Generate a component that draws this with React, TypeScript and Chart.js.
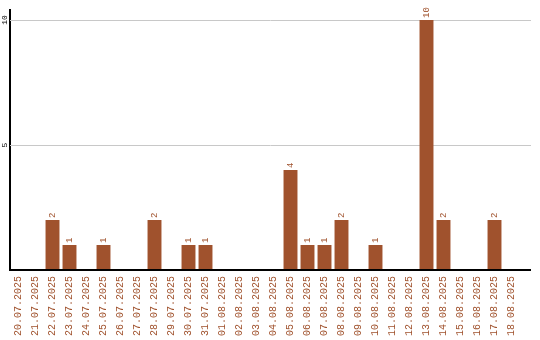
import React, { useEffect, useRef } from "react";
import { Chart, registerables } from "chart.js";

Chart.register(...registerables);

const categories = [
  "20.07.2025", "21.07.2025", "22.07.2025", "23.07.2025", "24.07.2025",
  "25.07.2025", "26.07.2025", "27.07.2025", "28.07.2025", "29.07.2025",
  "30.07.2025", "31.07.2025", "01.08.2025", "02.08.2025", "03.08.2025",
  "04.08.2025", "05.08.2025", "06.08.2025", "07.08.2025", "08.08.2025",
  "09.08.2025", "10.08.2025", "11.08.2025", "12.08.2025", "13.08.2025",
  "14.08.2025", "15.08.2025", "16.08.2025", "17.08.2025", "18.08.2025",
];
const counts = [0, 0, 2, 1, 0, 1, 0, 0, 2, 0, 1, 1, 0, 0, 0, 0, 4, 1, 1, 2, 0, 1, 0, 0, 10, 2, 0, 0, 2, 0];
const yTicks = [5, 10];

const BAR = "#A0522D";
const FONT = "'Liberation Mono', 'DejaVu Sans Mono', monospace";
const EXTRA = 11;

const decorPlugin = {
  id: "decor",
  beforeDatasetsDraw(chart: any) {
    const { ctx, chartArea } = chart;
    const y = chart.scales.y;
    ctx.save();
    ctx.strokeStyle = "#c8c8c8";
    ctx.lineWidth = 1;
    for (const v of yTicks) {
      const py = Math.round(y.getPixelForValue(v)) + 0.5;
      ctx.beginPath();
      ctx.moveTo(chartArea.left, py);
      ctx.lineTo(chartArea.right + EXTRA, py);
      ctx.stroke();
    }
    ctx.restore();
  },
  afterDatasetsDraw(chart: any) {
    const { ctx, chartArea } = chart;
    const y = chart.scales.y;
    ctx.save();
    ctx.strokeStyle = "#000";
    ctx.lineWidth = 2;
    ctx.beginPath();
    ctx.moveTo(chartArea.left - 1, chartArea.bottom);
    ctx.lineTo(chartArea.right + EXTRA, chartArea.bottom);
    ctx.stroke();
    ctx.fillStyle = "#000";
    ctx.font = `8px ${FONT}`;
    ctx.textAlign = "center";
    ctx.textBaseline = "middle";
    for (const v of yTicks) {
      const py = y.getPixelForValue(v);
      ctx.save();
      ctx.translate(5, py);
      ctx.rotate(-Math.PI / 2);
      ctx.fillText(String(v), 0, 0);
      ctx.restore();
    }
    const meta = chart.getDatasetMeta(0);
    ctx.fillStyle = BAR;
    ctx.font = `9px ${FONT}`;
    ctx.textAlign = "left";
    ctx.textBaseline = "middle";
    meta.data.forEach((el: any, i: number) => {
      const v = counts[i];
      if (!v) return;
      ctx.save();
      ctx.translate(el.x, el.y - 2);
      ctx.rotate(-Math.PI / 2);
      ctx.fillText(String(v), 0, 0);
      ctx.restore();
    });
    ctx.restore();
  },
};

export default function App() {
  const ref = useRef<HTMLCanvasElement>(null);
  useEffect(() => {
    const chart = new Chart(ref.current!, {
      type: "bar",
      data: {
        labels: categories,
        datasets: [
          {
            data: counts,
            backgroundColor: BAR,
            barPercentage: 0.82,
            categoryPercentage: 1,
          },
        ],
      },
      options: {
        animation: false,
        responsive: true,
        maintainAspectRatio: false,
        layout: { padding: { top: 10, right: 20, left: 0, bottom: 0 } },
        plugins: { legend: { display: false }, tooltip: { enabled: false } },
        scales: {
          x: {
            grid: { display: false, drawTicks: false },
            border: { display: false },
            ticks: {
              autoSkip: false,
              minRotation: 90,
              maxRotation: 90,
              padding: 6,
              color: BAR,
              font: { family: FONT, size: 10 },
            },
            afterFit: (s: any) => {
              s.height = 70;
            },
          },
          y: {
            min: 0,
            max: 10.4,
            ticks: { stepSize: 5, includeBounds: false, display: false },
            grid: { display: false, drawTicks: false },
            border: { display: true, color: "#000", width: 2 },
            afterFit: (s: any) => {
              s.width = 10;
            },
          },
        },
      },
      plugins: [decorPlugin],
    });
    return () => chart.destroy();
  }, []);
  return (
    <div style={{ position: "fixed", left: 0, top: 0, width: 540, height: 340, background: "#fff" }}>
      <canvas ref={ref} />
    </div>
  );
}
